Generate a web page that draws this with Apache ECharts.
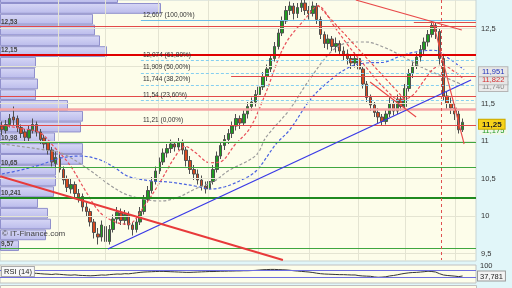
<!DOCTYPE html>
<html><head><meta charset="utf-8">
<script src="https://cdn.jsdelivr.net/npm/echarts@6/dist/echarts.min.js"></script>
<style>html,body{margin:0;padding:0;background:#e1f6f9}#c{width:512px;height:288px}</style>
</head><body><div id="c"></div>
<script>
// ---- candles ----
const opens=[11.20,11.14,11.22,11.32,11.30,11.18,11.12,11.04,11.14,11.22,
11.12,11.04,10.98,10.88,10.70,10.78,10.62,10.50,10.36,10.42,
10.30,10.26,10.12,10.06,9.92,9.76,9.72,9.86,9.66,9.82,
9.96,10.04,9.94,10.02,9.88,9.82,9.92,10.06,10.22,10.34,
10.46,10.60,10.72,10.84,10.90,10.96,10.92,10.98,10.88,10.74,
10.62,10.56,10.48,10.40,10.36,10.46,10.62,10.80,10.94,11.02,
11.10,11.20,11.30,11.24,11.36,11.46,11.52,11.62,11.72,11.86,
11.96,12.10,12.26,12.44,12.60,12.74,12.80,12.70,12.78,12.84,
12.74,12.70,12.80,12.62,12.42,12.30,12.36,12.26,12.30,12.20,
12.16,12.10,12.04,12.10,11.96,11.76,11.58,11.48,11.38,11.32,
11.26,11.36,11.50,11.40,11.56,11.46,11.70,11.90,12.00,12.12,
12.22,12.32,12.42,12.54,12.46,12.10,11.60,11.50,11.44,11.36,
11.15];
const closes=[11.15,11.22,11.30,11.28,11.18,11.10,11.05,11.15,11.22,11.12,
11.02,10.96,10.88,10.72,10.78,10.62,10.48,10.38,10.42,10.30,
10.25,10.12,10.06,9.92,9.78,9.72,9.88,9.66,9.82,9.96,
10.05,9.94,10.02,9.88,9.82,9.92,10.06,10.22,10.34,10.46,
10.60,10.72,10.84,10.90,10.96,10.92,10.98,10.88,10.74,10.62,
10.56,10.48,10.40,10.36,10.46,10.62,10.80,10.94,11.02,11.10,
11.20,11.30,11.24,11.36,11.46,11.52,11.62,11.72,11.86,11.96,
12.10,12.26,12.44,12.60,12.74,12.80,12.70,12.78,12.84,12.74,
12.70,12.80,12.62,12.42,12.30,12.36,12.26,12.30,12.20,12.16,
12.10,12.04,12.10,11.96,11.76,11.58,11.48,11.38,11.32,11.26,
11.36,11.50,11.40,11.56,11.46,11.70,11.90,12.00,12.12,12.22,
12.32,12.42,12.54,12.46,12.10,11.60,11.50,11.44,11.36,11.15,
11.25];
const lows=[11.08,11.10,11.18,11.20,11.12,11.04,10.98,11.00,11.10,11.06,
10.96,10.90,10.82,10.66,10.64,10.58,10.42,10.32,10.30,10.24,
10.18,10.06,10.00,9.86,9.70,9.62,9.66,9.57,9.62,9.78,
9.90,9.88,9.88,9.82,9.74,9.78,9.88,10.02,10.18,10.30,
10.42,10.56,10.68,10.78,10.84,10.86,10.88,10.82,10.66,10.56,
10.48,10.42,10.34,10.30,10.32,10.42,10.58,10.76,10.88,10.96,
11.04,11.14,11.16,11.20,11.30,11.40,11.46,11.56,11.68,11.80,
11.92,12.06,12.22,12.40,12.56,12.68,12.62,12.64,12.72,12.68,
12.62,12.66,12.56,12.36,12.24,12.22,12.20,12.18,12.14,12.08,
12.02,11.96,11.98,11.90,11.70,11.52,11.40,11.32,11.24,11.20,
11.22,11.32,11.34,11.36,11.40,11.44,11.66,11.84,11.96,12.06,
12.16,12.26,12.38,12.36,12.02,11.54,11.42,11.36,11.28,11.10,
11.12];
const highs=[11.26,11.28,11.36,11.46,11.34,11.22,11.16,11.20,11.30,11.26,
11.16,11.08,11.00,10.92,10.86,10.82,10.66,10.54,10.50,10.46,
10.36,10.30,10.18,10.10,9.96,9.84,9.94,9.90,9.88,10.02,
10.12,10.10,10.08,10.06,9.92,9.98,10.12,10.28,10.40,10.52,
10.66,10.78,10.90,10.96,11.02,11.00,11.04,11.02,10.92,10.80,
10.68,10.62,10.54,10.46,10.52,10.68,10.86,11.00,11.08,11.16,
11.26,11.36,11.34,11.42,11.52,11.58,11.68,11.78,11.92,12.02,
12.16,12.32,12.50,12.66,12.80,12.86,12.84,12.84,12.88,12.88,
12.80,12.86,12.84,12.66,12.46,12.42,12.40,12.38,12.34,12.26,
12.22,12.14,12.18,12.14,12.00,11.80,11.62,11.52,11.44,11.36,
11.42,11.58,11.56,11.62,11.60,11.76,11.96,12.06,12.18,12.28,
12.38,12.48,12.607,12.58,12.50,12.14,11.66,11.58,11.50,11.40,
11.30];
// ---- RSI(14) ----
const rsi=[52,55,58,57,52,50,49,53,56,
54,52,50,49,47,50,48,
46,44,43,45,42,41,40,39,
40,42,44,43,46,48,50,49,52,51,
54,57,60,62,63,64,65,66,66,65,64,63,62,61,60,60,61,62,63,64,65,65,66,67,67,68,68,69,69,70,70,71,72,
74,76,77,78,78,77,76,75,73,
70,68,66,64,62,59,
55,52,50,49,48,47,46,46,45,44,44,
40,38,37,36,
32,30,31,33,
38,41,45,
50,54,57,59,60,62,64,67,65,62,
52,44,41,39,37,34,37.781];
const rsiLevels=[70,30];
// ---- moving averages [index, price] ----
const maShort=[[0,11.21],[4.7,11.17],[9.9,11.11],[13.8,10.91],[17.7,10.68],[21.6,10.35],[25.5,10.05],[29.5,9.92],[32.8,9.89],[37.3,10.15],[41.4,10.47],[45.1,10.79],[47.7,10.93],[50.3,10.85],[54.2,10.71],[56.8,10.72],[60.7,10.95],[64.6,11.17],[68.5,11.61],[73.7,12.28],[79.2,12.64],[82.3,12.80],[86.8,12.51],[90.7,12.24],[94.6,12.00],[99.5,11.71],[103.7,11.55],[106.8,11.60],[110,11.81],[112.6,11.97],[115.2,12.00],[118,11.92],[120.4,11.822]];
const maMid=[[0,10.96],[6,10.92],[11.2,10.88],[15.9,10.83],[22.9,10.61],[28.2,10.41],[32.8,10.28],[41.4,10.20],[45.9,10.25],[50.3,10.36],[55.5,10.47],[58.9,10.60],[66.2,10.81],[68.8,11.05],[74.8,11.41],[80,11.81],[86.2,12.21],[91.5,12.32],[94.8,12.32],[99.5,12.25],[104.7,12.12],[109.9,11.97],[115.4,11.85],[120.4,11.74]];
const maLong=[[0,10.56],[4.7,10.61],[9.9,10.68],[15.1,10.77],[20.3,10.80],[25.5,10.75],[29.5,10.64],[32.8,10.53],[38.6,10.47],[44,10.45],[50.3,10.40],[54.5,10.36],[58.1,10.39],[62,10.47],[66.2,10.60],[71.4,10.96],[75,11.15],[80.3,11.55],[85.5,11.81],[90.7,11.99],[94.8,12.04],[99.5,12.05],[103.7,12.13],[108.1,12.19],[112.6,12.21],[117,12.08],[120.4,11.951]];
// ---- volume profile ----
const profileEdges=[9.533,9.677,9.821,9.964,10.108,10.252,10.396,10.539,10.683,10.827,10.971,11.114,11.258,11.402,11.546,11.689,11.833,11.977,12.121,12.264,12.408,12.552,12.696,12.840,12.984];
const profileVol=[18,45,50,47,37,53,55,55,82,82,54,80,82,67,35,37,34,35,106,99,94,92,160,117];
const profileLabels=[12.53,12.15,10.98,10.65,10.241,9.57];
// ---- levels ----
const redLevels=[12.53,11.60,11.21];
const redThickLevels=[12.15];
const pinkLevels=[11.433];
const greenLevels=[10.98,10.65,9.57];
const greenThickLevels=[10.241];
const fibLevels=[12.607,12.074,11.909,11.744,11.54,11.21];
const fibPct=['100,00%','61,80%','50,00%','38,20%','23,60%','0,00%'];
const fibStart=36.2;
const redPartial=[[[59.7,11.87],[123.5,11.87]],[[107.3,12.587],[123.5,12.587]]];
// ---- trend lines [index, price] ----
const blueTrend=[[27.6,9.56],[122.2,11.813]];
const redThickTrend=[[-0.5,10.53],[73.2,9.413]];
const redThinTrends=[[[92.2,12.88],[119.8,12.48]],[[112.3,12.587],[120.4,10.96]],[[95.9,11.787],[107.9,11.32]]];
const redDashTrend=[[82.3,12.813],[105,11.55]];
const vMarker=114.4;
const gridX=[14.6,26.85,40.66,53.68,66.7,80,92.75,105,118];
const yTicks=[9.5,10,10.5,11,11.5,12,12.5];
const yLabels=[9.5,10,10.5,11,11.5,12.5];
const lastClose=11.25, lastGreen=11.175;
const maLast={long:11.951,short:11.822,mid:11.740};
const N=124;
const cats=Array.from({length:N},(_,i)=>String(i));

const fmt=v=>String(v).replace('.',',');
const near=(a,b)=>Math.abs(a-b)<1e-6;

const chart=echarts.init(document.getElementById('c'),null,{width:512,height:288});
const FONT='Liberation Sans, Arial, sans-serif';

const levelItems=[];
const addFull=(v,color,width)=>{
  const lbl=profileLabels.find(p=>near(p,v));
  levelItems.push({yAxis:v,lineStyle:{color:color,width:width,type:'solid'},
    label: lbl!==undefined?{show:true,position:'insideStartTop',distance:1,formatter:fmt(lbl),color:'#444',fontSize:6.5,fontWeight:'bold',fontFamily:FONT}:{show:false}});
};
redLevels.forEach(v=>addFull(v,'#e24a4a',1));
redThickLevels.forEach(v=>addFull(v,'#e00000',2));
pinkLevels.forEach(v=>addFull(v,'#f4a4a4',2.5));
greenLevels.forEach(v=>addFull(v,'#3fa63f',1));
greenThickLevels.forEach(v=>addFull(v,'#1f8a1f',2.2));
redPartial.forEach(p=>levelItems.push([{coord:p[0],lineStyle:{color:'#e24a4a',width:1.2,type:'solid'},label:{show:false}},{coord:p[1]}]));
fibLevels.forEach((v,i)=>{
  const solid=i===0, last=i===fibLevels.length-1;
  levelItems.push([{coord:[fibStart,v],lineStyle:{color:last?'rgba(0,0,0,0)':(solid?'#6cbbe8':'#86cff0'),width:1.2,type:solid?'solid':[3,2]},
    label:{show:true,position:'insideStartTop',distance:2,formatter:fmt(v)+' ('+fibPct[i]+')',color:'#333',fontSize:6.5,fontFamily:FONT}},{coord:[123.5,v]}]);
});

const gridItems=[];
yTicks.forEach(v=>gridItems.push({yAxis:v}));
gridX.forEach(v=>gridItems.push({xAxis:v}));

const trendSeries=(data,color,width,type)=>({type:'line',xAxisIndex:1,yAxisIndex:0,data:data,symbol:'none',silent:true,z:5,
  lineStyle:{color:color,width:width,type:type||'solid'},animation:false});
const maSeries=(data,color)=>({type:'line',xAxisIndex:1,yAxisIndex:0,data:data,symbol:'none',smooth:0.35,silent:true,z:4,
  lineStyle:{color:color,width:1.2,type:[3,2]},animation:false});

const rich={
  n:{color:'#333',fontSize:7.5,padding:[0,0,0,2],fontFamily:FONT},
  b:{color:'#2233bb',fontSize:7.5,backgroundColor:'#e6e6e6',borderColor:'#b5b5b5',borderWidth:1,padding:[1,3,0,3],fontFamily:FONT},
  r:{color:'#d42a2a',fontSize:7.5,backgroundColor:'#e6e6e6',borderColor:'#b5b5b5',borderWidth:1,padding:[1,3,0,3],fontFamily:FONT},
  g:{color:'#8a8a8a',fontSize:7.5,backgroundColor:'#eaeaea',borderColor:'#b5b5b5',borderWidth:1,padding:[1,3,0,3],fontFamily:FONT},
  yl:{color:'#222',fontSize:8,fontWeight:'bold',backgroundColor:'#f7d21a',borderColor:'#c9a800',borderWidth:1,padding:[1,3,0,3],fontFamily:FONT},
  gr:{color:'#1f9a1f',fontSize:7.5,backgroundColor:'#eef7ea',padding:[0,3,0,3],fontFamily:FONT},
  w:{color:'#222',fontSize:7.5,backgroundColor:'#f4f4f4',borderColor:'#999',borderWidth:1,padding:[1,2,0,2],fontFamily:FONT}
};
const labelAxis=(val,key,pad,txt)=>({type:'value',gridIndex:0,position:'right',min:9.4,max:12.88,
  axisLine:{show:false},splitLine:{show:false},axisTick:{show:false},
  axisLabel:{margin:3,hideOverlap:false,showMinLabel:true,showMaxLabel:true,customValues:[val],padding:pad,formatter:v=>'{'+key+'|'+(txt||fmt(v))+'}',rich:rich}});

const option={
  backgroundColor:'#e1f6f9',
  animation:false,
  textStyle:{fontFamily:FONT},
  grid:[
    {left:0,right:36,top:0,height:261,show:true,backgroundColor:'#fdfdea',borderColor:'#c7d3d3',borderWidth:1},
    {left:0,right:36,top:265,height:18,show:true,backgroundColor:'#fdfdea',borderColor:'#c0c0c0',borderWidth:1}
  ],
  xAxis:[
    {type:'category',gridIndex:0,data:cats,show:false,boundaryGap:true},
    {type:'value',gridIndex:0,min:-0.5,max:N-0.5,show:false},
    {type:'value',gridIndex:0,min:0,max:476,show:false},
    {type:'category',gridIndex:1,data:cats,show:false,boundaryGap:true}
  ],
  yAxis:[
    {type:'value',gridIndex:0,position:'right',min:9.4,max:12.88,
     axisLine:{show:false},splitLine:{show:false},
     axisTick:{show:true,customValues:yTicks,length:4,lineStyle:{color:'#666'}},
     axisLabel:{margin:3,hideOverlap:false,showMinLabel:true,showMaxLabel:true,customValues:yLabels,
       formatter:v=>'{n|'+fmt(v)+'}',rich:rich}},
    {type:'value',gridIndex:1,position:'right',min:-5,max:105,
     axisLine:{show:false},splitLine:{show:false},
     axisTick:{show:false},
     axisLabel:{margin:2,hideOverlap:false,showMinLabel:true,showMaxLabel:true,customValues:[100,37.781],formatter:v=>near(v,37.781)?'{w|'+fmt(v)+'}':'{n|'+fmt(v)+'}',rich:rich}},
    labelAxis(maLast.mid,'g',[2,0,0,0],fmt(maLast.mid.toFixed(3))),
    labelAxis(maLast.short,'r',[1,0,0,0]),
    labelAxis(maLast.long,'b',[4,0,0,0]),
    labelAxis(lastGreen,'gr',[6,0,0,0]),
    labelAxis(lastClose,'yl',[4,0,0,0])
  ],
  series:[
    {type:'line',xAxisIndex:1,yAxisIndex:0,data:[],silent:true,z:0,
     markLine:{symbol:'none',silent:true,animation:false,label:{show:false},lineStyle:{color:'#e4e4d2',width:1,type:'solid'},data:gridItems}},
    {type:'custom',xAxisIndex:2,yAxisIndex:0,clip:true,silent:true,z:1,
     data:profileVol.map((v,i)=>[v,profileEdges[i],profileEdges[i+1]]),
     encode:{x:0,y:[1,2]},
     renderItem:(params,api)=>{
       const p0=api.coord([0,api.value(2)]);
       const p1=api.coord([api.value(0),api.value(1)]);
       return {type:'rect',shape:{x:p0[0]+0.5,y:p0[1]+0.5,width:p1[0]-p0[0],height:p1[1]-p0[1]-1},
         style:{fill:new echarts.graphic.LinearGradient(0,0,0,1,[{offset:0,color:'#d8d8f6'},{offset:1,color:'#babbeb'}]),stroke:'#9090cc',lineWidth:1}};
     }},
    {type:'line',xAxisIndex:1,yAxisIndex:0,data:[],silent:true,z:2,
     markLine:{symbol:'none',silent:true,animation:false,label:{show:false},data:levelItems}},
    {type:'line',xAxisIndex:1,yAxisIndex:0,data:[],silent:true,z:2,
     markLine:{symbol:'none',silent:true,animation:false,label:{show:false},
       data:[[{coord:[vMarker,12.88],lineStyle:{color:'#e05050',width:1,type:[3,3]}},{coord:[vMarker,9.413]}]]}},
    {type:'candlestick',xAxisIndex:0,yAxisIndex:0,z:3,barWidth:3,silent:true,
     data:opens.map((o,i)=>[o,closes[i],lows[i],highs[i]]),
     itemStyle:{color:'#1f9e1f',color0:'#d8481e',borderColor:'#505050',borderColor0:'#505050',borderWidth:1}},
    maSeries(maLong,'#4a63e0'),
    maSeries(maMid,'#9a9a9a'),
    maSeries(maShort,'#e8505a'),
    trendSeries(blueTrend,'#3a3ae6',1.3),
    trendSeries(redThickTrend,'#e83a3a',2),
    ...redThinTrends.map(t=>trendSeries(t,'#e84848',1.1)),
    trendSeries(redDashTrend,'#e84848',1.1,[3,2]),
    {type:'line',xAxisIndex:3,yAxisIndex:1,data:rsi,symbol:'none',silent:true,z:4,
     lineStyle:{color:'#333',width:1},
     markLine:{symbol:'none',silent:true,animation:false,label:{show:false},lineStyle:{color:'#6d6de0',width:1.2,type:'solid'},
       data:rsiLevels.map(v=>({yAxis:v}))}}
  ],
  graphic:[
    {type:'text',left:2,top:230,z:10,style:{text:'© IT-Finance.com',fontSize:8,fill:'#444',fontFamily:FONT}},
    {type:'text',left:1,top:266,z:10,style:{text:'RSI (14)',fontSize:7.5,fill:'#222',fontFamily:FONT,backgroundColor:'#f8f8f8',borderColor:'#aaa',borderWidth:1,padding:[1,2,0,2]}},
    {type:'rect',left:0,top:285,z:10,shape:{width:476,height:4},style:{fill:'#fdfdea',stroke:'#c0c0c0',lineWidth:1}}
  ]
};
chart.setOption(option);
</script></body></html>
